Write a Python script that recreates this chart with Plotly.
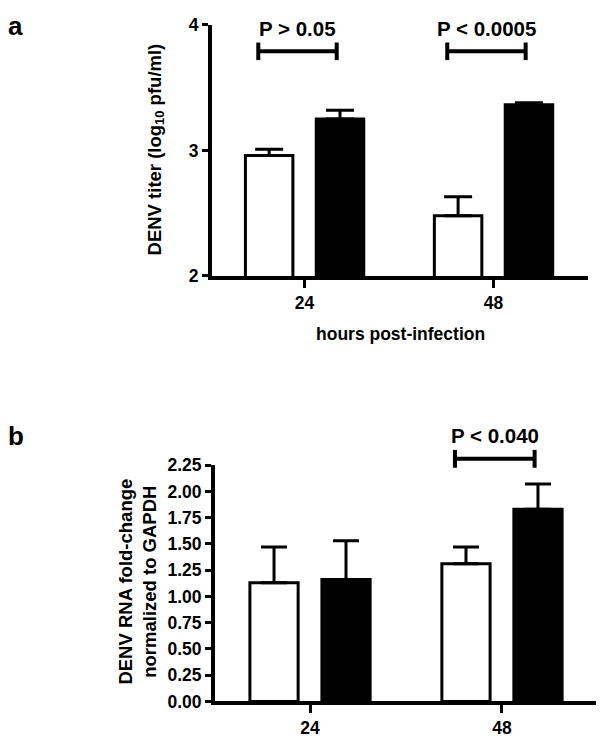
import plotly.graph_objects as go

# ---------------- data ----------------
hours = ["24", "48"]

# panel a: DENV titer (log10 pfu/ml)
titer_open = [2.96, 2.48]
titer_open_err = [0.05, 0.15]
titer_filled = [3.25, 3.365]
titer_filled_err = [0.07, 0.015]
titer_ticks = [2, 3, 4]
titer_p_text = ["P > 0.05", "P < 0.0005"]
titer_bracket_y = [3.79, 3.79]
titer_text_y = [3.97, 3.97]

# panel b: DENV RNA fold-change normalized to GAPDH
rna_open = [1.13, 1.31]
rna_open_err = [0.34, 0.16]
rna_filled = [1.16, 1.83]
rna_filled_err = [0.37, 0.24]
rna_ticks = [0, 0.25, 0.5, 0.75, 1.0, 1.25, 1.5, 1.75, 2.0, 2.25]
rna_tick_text = ["0.00", "0.25", "0.50", "0.75", "1.00", "1.25", "1.50", "1.75", "2.00", "2.25"]
rna_p_index = [1]
rna_p_text = ["P < 0.040"]
rna_bracket_y = [2.31]
rna_text_y = [2.535]

W, H = 604, 738
FONT = "Liberation Sans, Arial, sans-serif"
YS = 0.977  # observed vertical scale of the rendered page


def px(x_img):
    return (x_img - 8) / W


def py(y_img):
    return 1 - (y_img - 17) / YS / H


fig = go.Figure()


def add_pair(xa, ya, open_v, open_e, fill_v, fill_e, capw):
    fig.add_trace(go.Bar(
        x=hours, y=open_v, xaxis=xa, yaxis=ya, showlegend=False,
        marker=dict(color="white", line=dict(color="black", width=3)),
        error_y=dict(type="data", symmetric=False, array=open_e,
                     arrayminus=[0] * len(open_e), color="black",
                     thickness=3, width=capw),
    ))
    fig.add_trace(go.Bar(
        x=hours, y=fill_v, xaxis=xa, yaxis=ya, showlegend=False,
        marker=dict(color="black", line=dict(color="black", width=3)),
        error_y=dict(type="data", symmetric=False, array=fill_e,
                     arrayminus=[0] * len(fill_e), color="black",
                     thickness=3, width=capw),
    ))


add_pair("x", "y", titer_open, titer_open_err, titer_filled, titer_filled_err, 14)
add_pair("x2", "y2", rna_open, rna_open_err, rna_filled, rna_filled_err, 13)

L_OFF, R_OFF = -0.245, 0.17
shapes = []
annotations = []
for i, (by, ty, txt) in enumerate(zip(titer_bracket_y, titer_text_y, titer_p_text)):
    x0, x1 = i + L_OFF, i + R_OFF
    d = 0.07
    for (a, b, c, e) in [(x0, by, x1, by), (x0, by - d, x0, by + d), (x1, by - d, x1, by + d)]:
        shapes.append(dict(type="line", xref="x", yref="y", x0=a, y0=b, x1=c, y1=e,
                           line=dict(color="black", width=4)))
    annotations.append(dict(x=(x0 + x1) / 2, y=ty, xref="x", yref="y", text="<b>%s</b>" % txt,
                            showarrow=False, font=dict(size=20.5, color="black", family=FONT),
                            xanchor="center", yanchor="middle"))

rna_top = rna_ticks[-1]
for i, by, ty, txt in zip(rna_p_index, rna_bracket_y, rna_text_y, rna_p_text):
    x0, x1 = i + L_OFF, i + R_OFF
    d = 0.085
    for (a, b, c, e) in [(x0, by, x1, by), (x0, by - d, x0, by + d), (x1, by - d, x1, by + d)]:
        shapes.append(dict(type="line", xref="x2", yref="y2 domain", x0=a, y0=b / rna_top,
                           x1=c, y1=e / rna_top, line=dict(color="black", width=4)))
    annotations.append(dict(x=(x0 + x1) / 2, y=ty / rna_top, xref="x2", yref="y2 domain",
                            text="<b>%s</b>" % txt,
                            showarrow=False, font=dict(size=20.5, color="black", family=FONT),
                            xanchor="center", yanchor="middle"))

annotations += [
    dict(x=0, y=1 + 9 / H, xref="paper", yref="paper", text="<b>a</b>", showarrow=False,
         xanchor="left", yanchor="top", xshift=-2, font=dict(size=26, color="black", family=FONT)),
    dict(x=0, y=py(437), xref="paper", yref="paper", text="<b>b</b>", showarrow=False,
         xanchor="left", yanchor="middle", xshift=-2, font=dict(size=26, color="black", family=FONT)),
    dict(x=px(156), y=py(149), xref="paper", yref="paper",
         text="<b>DENV titer (log<sub>10</sub> pfu/ml)</b>", showarrow=False, textangle=-90,
         xanchor="center", yanchor="middle", font=dict(size=18.5, color="black", family=FONT)),
    dict(x=px(400), y=py(334), xref="paper", yref="paper",
         text="<b>hours post-infection</b>", showarrow=False,
         xanchor="center", yanchor="middle", font=dict(size=17.5, color="black", family=FONT)),
    dict(x=px(138), y=py(583), xref="paper", yref="paper",
         text="<b>DENV RNA fold-change<br>normalized to GAPDH</b>", showarrow=False, textangle=-90,
         xanchor="center", yanchor="middle", font=dict(size=18.5, color="black", family=FONT)),
]

tickfont = dict(size=17.5, color="black", family=FONT, weight="bold")
ax_style = dict(showgrid=False, zeroline=False, showline=True, linecolor="black", linewidth=4,
                ticks="outside", tickcolor="black", tickwidth=3, tickfont=tickfont)

fig.update_layout(
    width=W, height=H,
    margin=dict(l=0, r=0, t=0, b=0),
    paper_bgcolor="white", plot_bgcolor="white",
    barmode="group", bargap=0.25, bargroupgap=0.33,
    showlegend=False,
    xaxis=dict(domain=[px(212), px(588)], anchor="y", type="category",
               range=[-0.49, 1.5], ticklen=8, **ax_style),
    yaxis=dict(domain=[py(276), py(24)], anchor="x", range=[2, 4],
               tickvals=titer_ticks, ticklen=6, **ax_style),
    xaxis2=dict(domain=[px(215), px(597)], anchor="y2", type="category",
                range=[-0.495, 1.495], ticklen=8, **ax_style),
    yaxis2=dict(domain=[py(703.3), py(466)], anchor="x2", range=[0, rna_top],
                tickvals=rna_ticks, ticktext=rna_tick_text, ticklen=6, **ax_style),
    shapes=shapes,
    annotations=annotations,
)

fig.write_html("out.html")
